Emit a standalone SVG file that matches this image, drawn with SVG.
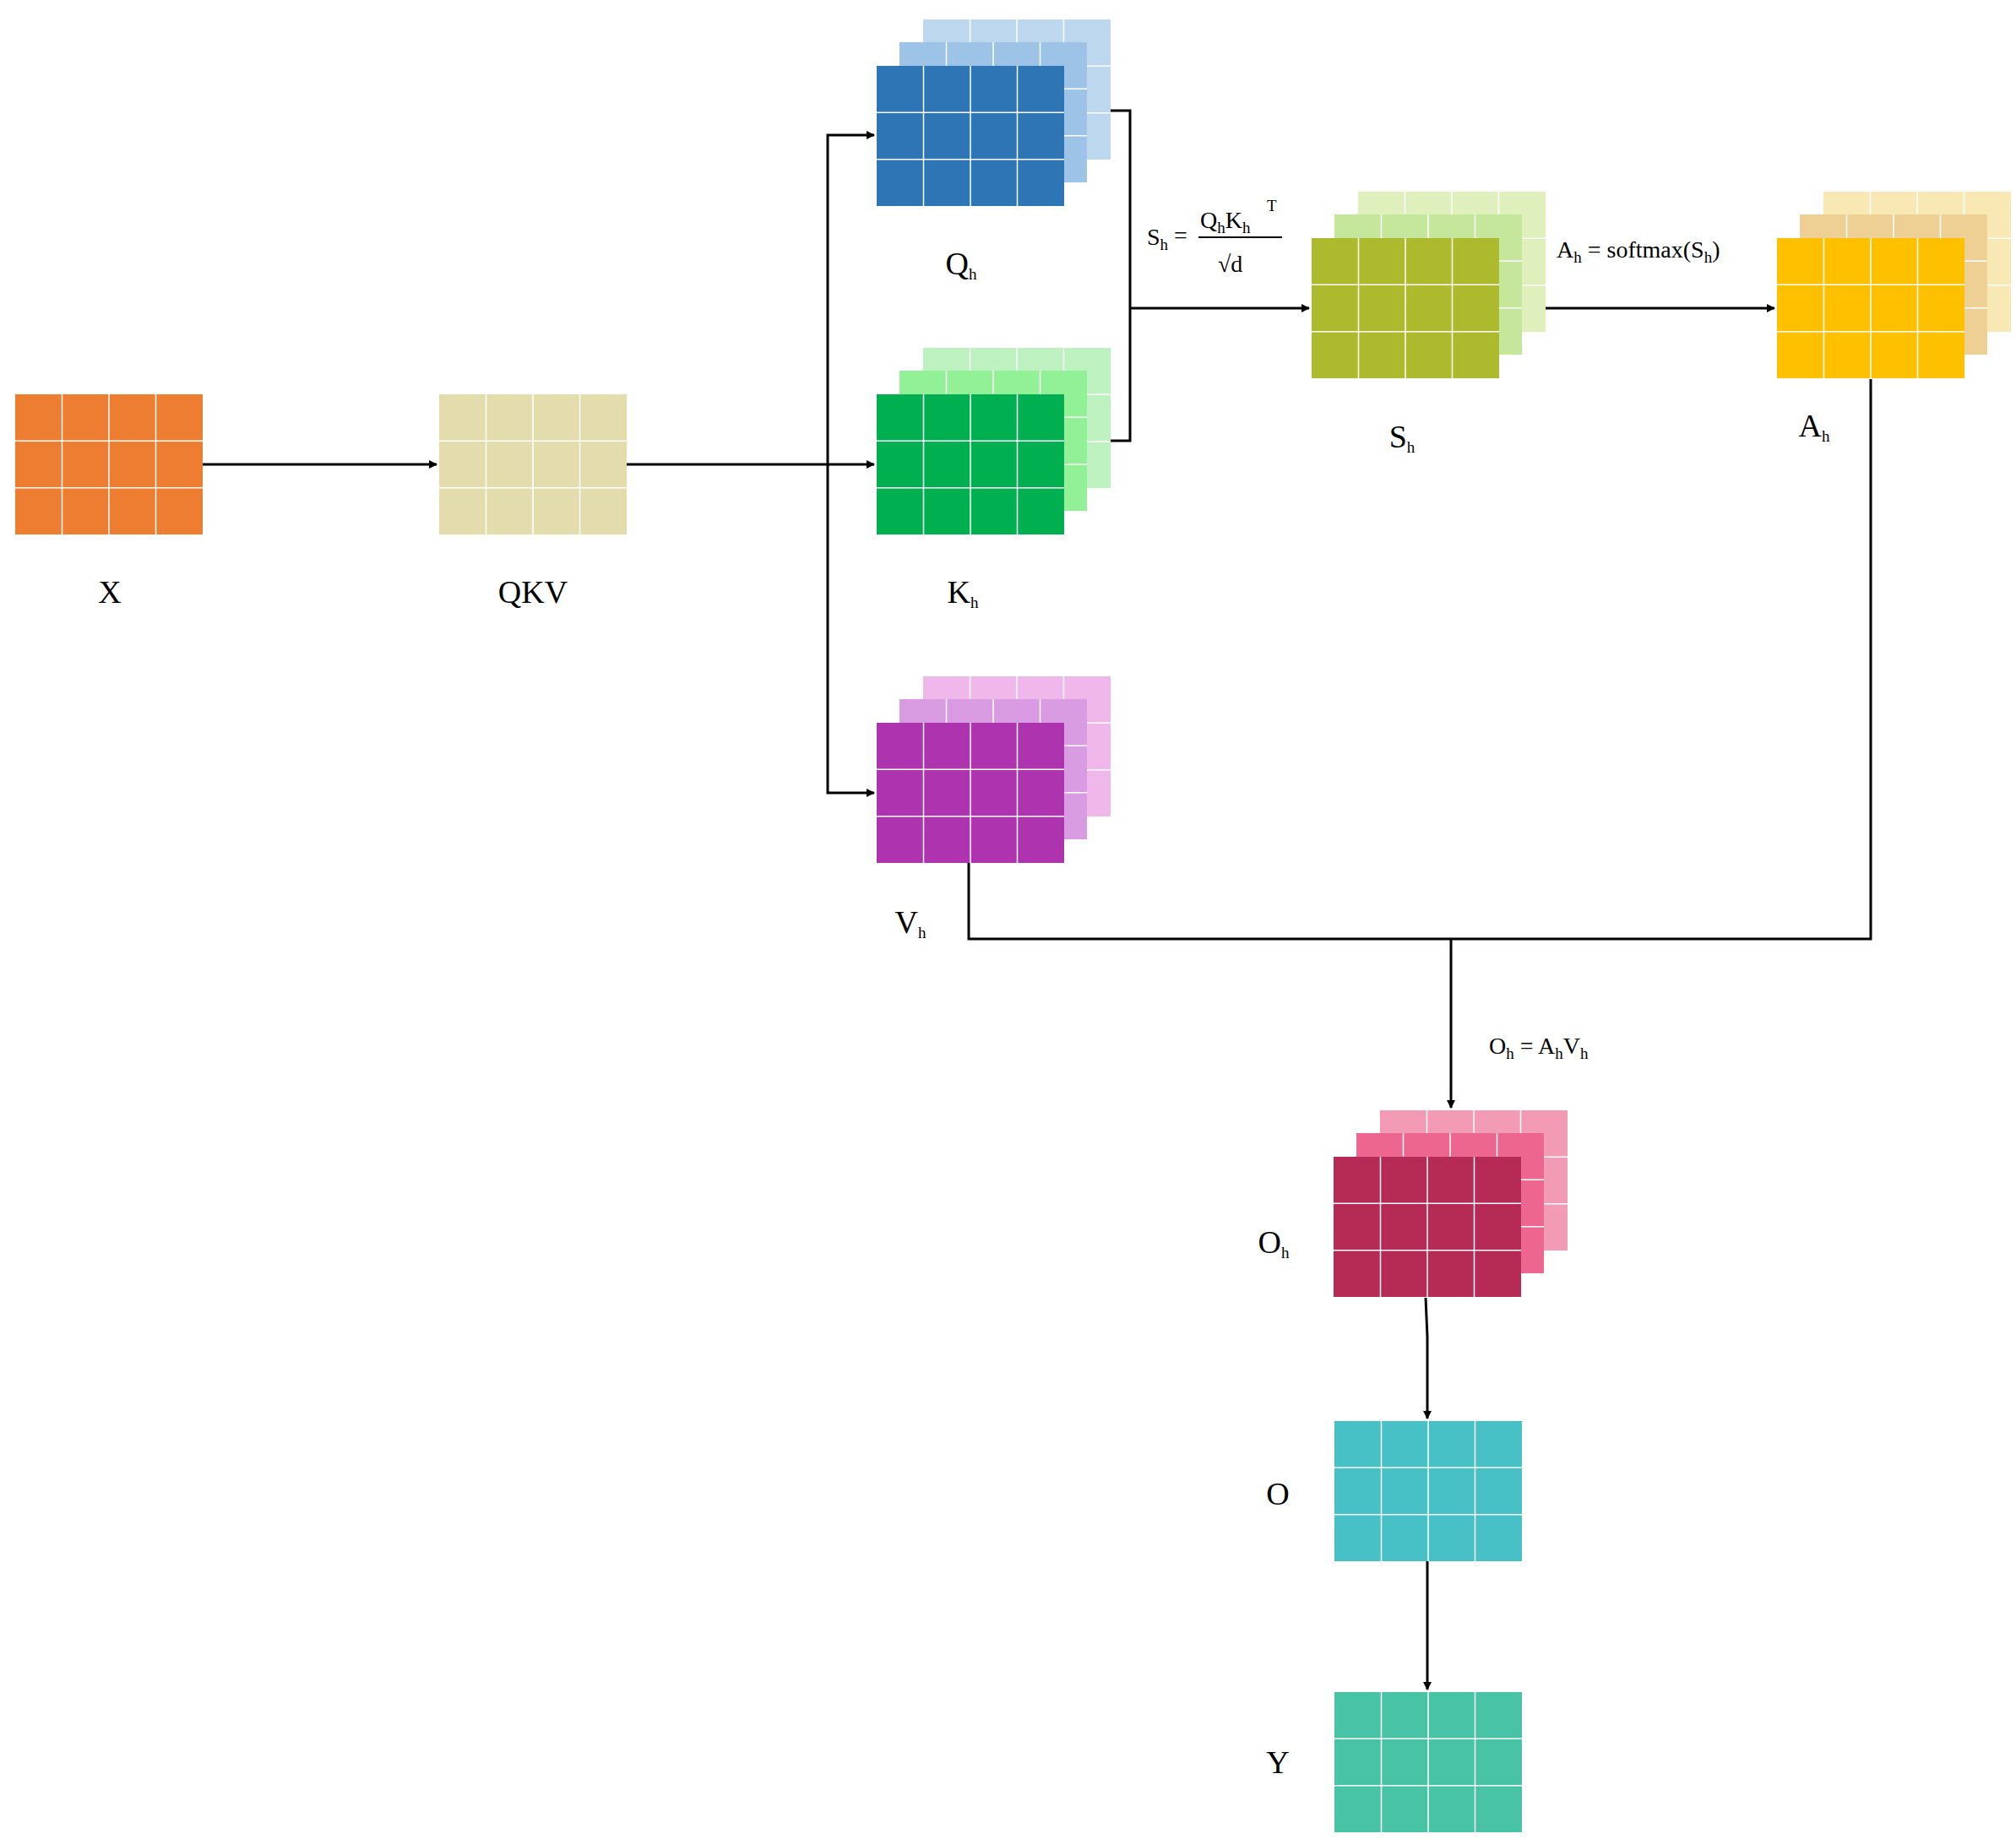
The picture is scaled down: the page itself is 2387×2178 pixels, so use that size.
<svg xmlns="http://www.w3.org/2000/svg" xmlns:xlink="http://www.w3.org/1999/xlink" width="2387" height="2178" viewBox="0 0 2387 2178">
<style>
.t{font-family:"Liberation Serif","Times New Roman",serif;fill:#000}
.lbl{font-size:38px}
.f{font-size:28px}
.s{font-size:19px}
.c{fill:none;stroke:#000;stroke-width:3}
</style>
<defs>
<path id="grid" d="M55.5 0V166M111 0V166M166.5 0V166M0 55.3H222M0 110.7H222" stroke="#fff" stroke-width="1.5" fill="none"/>
<marker id="ar" markerWidth="10" markerHeight="10" refX="9" refY="5" orient="auto" markerUnits="userSpaceOnUse" viewBox="0 0 10 10"><path d="M0 0L10 5L0 10z"/></marker>
</defs>
<rect width="2387" height="2178" fill="#fff"/>
<g id="connectors">
<path class="c" d="M240 550H517" marker-end="url(#ar)"/>
<path class="c" d="M742 550H1035" marker-end="url(#ar)"/>
<path class="c" d="M980 550V160H1035" marker-end="url(#ar)"/>
<path class="c" d="M980 550V939H1035" marker-end="url(#ar)"/>
<path class="c" d="M1287 131H1338V522H1287"/>
<path class="c" d="M1338 365H1550" marker-end="url(#ar)"/>
<path class="c" d="M1775 365H2101" marker-end="url(#ar)"/>
<path class="c" d="M2215 449V1112H1147V1022"/>
<path class="c" d="M1718 1112V1312" marker-end="url(#ar)"/>
<path class="c" d="M1688 1537L1690 1583V1680" marker-end="url(#ar)"/>
<path class="c" d="M1690 1848V2001" marker-end="url(#ar)"/>
</g>
<g id="X"><rect x="18" y="467" width="222" height="166" fill="#ED7D31"/><use href="#grid" x="18" y="467"/><text class="t lbl" x="130" y="714" text-anchor="middle">X</text></g>
<g id="QKV"><rect x="520" y="467" width="222" height="166" fill="#E3DCAD"/><use href="#grid" x="520" y="467"/><text class="t lbl" x="631" y="714" text-anchor="middle">QKV</text></g>
<g id="Qh">
<rect x="1093" y="23" width="222" height="166" fill="#BDD7EE"/><use href="#grid" x="1093" y="23"/>
<rect x="1065" y="50" width="222" height="166" fill="#9DC3E6"/><use href="#grid" x="1065" y="50"/>
<rect x="1038" y="78" width="222" height="166" fill="#2E75B6"/><use href="#grid" x="1038" y="78"/>
<text class="t lbl" x="1138" y="325" text-anchor="middle">Q<tspan class="s" dy="6">h</tspan></text></g>
<g id="Kh">
<rect x="1093" y="412" width="222" height="166" fill="#BDF2C0"/><use href="#grid" x="1093" y="412"/>
<rect x="1065" y="439" width="222" height="166" fill="#92F097"/><use href="#grid" x="1065" y="439"/>
<rect x="1038" y="467" width="222" height="166" fill="#00B050"/><use href="#grid" x="1038" y="467"/>
<text class="t lbl" x="1140" y="714" text-anchor="middle">K<tspan class="s" dy="6">h</tspan></text></g>
<g id="Vh">
<rect x="1093" y="801" width="222" height="166" fill="#F0B8EA"/><use href="#grid" x="1093" y="801"/>
<rect x="1065" y="828" width="222" height="166" fill="#D99CE3"/><use href="#grid" x="1065" y="828"/>
<rect x="1038" y="856" width="222" height="166" fill="#AE33AE"/><use href="#grid" x="1038" y="856"/>
<text class="t lbl" x="1078" y="1105" text-anchor="middle">V<tspan class="s" dy="6">h</tspan></text></g>
<g id="Sh">
<rect x="1608" y="227" width="222" height="166" fill="#E0F0BC"/><use href="#grid" x="1608" y="227"/>
<rect x="1580" y="254" width="222" height="166" fill="#C5E79B"/><use href="#grid" x="1580" y="254"/>
<rect x="1553" y="282" width="222" height="166" fill="#AEBA2E"/><use href="#grid" x="1553" y="282"/>
<text class="t lbl" x="1660" y="530" text-anchor="middle">S<tspan class="s" dy="6">h</tspan></text></g>
<g id="Ah">
<rect x="2159" y="227" width="222" height="166" fill="#F7E8B4"/><use href="#grid" x="2159" y="227"/>
<rect x="2131" y="254" width="222" height="166" fill="#EED095"/><use href="#grid" x="2131" y="254"/>
<rect x="2104" y="282" width="222" height="166" fill="#FFC000"/><use href="#grid" x="2104" y="282"/>
<text class="t lbl" x="2148" y="517" text-anchor="middle">A<tspan class="s" dy="6">h</tspan></text></g>
<g id="Oh">
<rect x="1634" y="1315" width="222" height="166" fill="#F39AB4"/><use href="#grid" x="1634" y="1315"/>
<rect x="1606" y="1342" width="222" height="166" fill="#EC6690"/><use href="#grid" x="1606" y="1342"/>
<rect x="1579" y="1370" width="222" height="166" fill="#B52B56"/><use href="#grid" x="1579" y="1370"/>
<text class="t lbl" x="1508" y="1484" text-anchor="middle">O<tspan class="s" dy="6">h</tspan></text></g>
<g id="O"><rect x="1580" y="1683" width="222" height="166" fill="#47C0C6"/><use href="#grid" x="1580" y="1683"/><text class="t lbl" x="1513" y="1782" text-anchor="middle">O</text></g>
<g id="Y"><rect x="1580" y="2004" width="222" height="166" fill="#49C3A6"/><use href="#grid" x="1580" y="2004"/><text class="t lbl" x="1513" y="2100" text-anchor="middle">Y</text></g>
<g id="formula-S">
<text class="t f" x="1358" y="290">S<tspan class="s" dy="6">h</tspan><tspan dy="-8"> =</tspan></text>
<text class="t f" x="1421" y="270">Q<tspan class="s" dy="6">h</tspan><tspan dy="-6">K</tspan><tspan class="s" dy="6">h</tspan></text>
<text class="t s" x="1500" y="250">T</text>
<path d="M1419 281H1518" stroke="#000" stroke-width="2"/>
<text class="t f" x="1442" y="322">√d</text>
</g>
<g id="formula-A"><text class="t f" x="1843" y="305">A<tspan class="s" dy="6">h</tspan><tspan dy="-6"> = softmax(S</tspan><tspan class="s" dy="6">h</tspan><tspan dy="-6">)</tspan></text></g>
<g id="formula-O"><text class="t f" x="1763" y="1248">O<tspan class="s" dy="6">h</tspan><tspan dy="-6"> = A</tspan><tspan class="s" dy="6">h</tspan><tspan dy="-6">V</tspan><tspan class="s" dy="6">h</tspan></text></g>
</svg>
